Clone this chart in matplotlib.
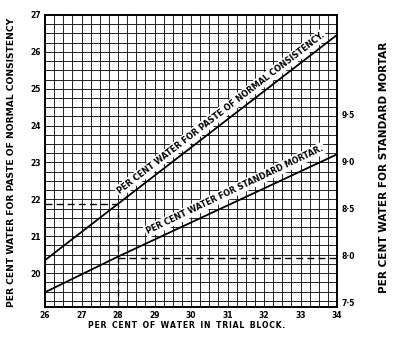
import numpy as np
import matplotlib
matplotlib.use('Agg')
import matplotlib.pyplot as plt

# data
trial_x = [26, 34]
paste_y = [20.35, 26.46]           # left scale
mortar_x = [26, 28, 34]
mortar_y = [7.61, 7.99, 9.08]      # right scale
read_x = 28
read_paste = 21.86
read_mortar = 7.98

x_ticks = [26, 27, 28, 29, 30, 31, 32, 33, 34]
left_ticks = [20, 21, 22, 23, 24, 25, 26, 27]
right_ticks = [7.5, 8.0, 8.5, 9.0, 9.5]
right_labels = ['7·5', '8·0', '8·5', '9·0', '9·5']

left_lim = (19.08, 27)
right_lim = (7.453, 10.565)

fig = plt.figure(figsize=(3.97, 3.39), dpi=100)
ax = fig.add_axes([0.1134, 0.0944, 0.7355, 0.8614])
ax2 = ax.twinx()

ax.set_xlim(26, 34)
ax.set_ylim(*left_lim)
ax2.set_ylim(*right_lim)

# graph paper grid
for gx in np.arange(26.25, 34, 0.25):
    ax.axvline(gx, color='k', lw=0.6, zorder=1)
for gy in np.arange(27 - 0.25, left_lim[0], -0.25):
    ax.axhline(gy, color='k', lw=0.6, zorder=1)

for s in ax.spines.values():
    s.set_linewidth(1.2)
for s in ax2.spines.values():
    s.set_linewidth(1.2)

ax.plot(trial_x, paste_y, color='k', lw=1.3, zorder=3)
ax2.plot(mortar_x, mortar_y, color='k', lw=1.3, zorder=3)

# reading dashes
dash = dict(color='k', lw=1.0, ls=(0, (5, 3)), zorder=4)
ax.plot([26, read_x], [read_paste, read_paste], **dash)
ax.plot([read_x, read_x], [left_lim[0], read_paste], **dash)
ax2.plot([read_x, 34], [read_mortar, read_mortar], **dash)

tfont = dict(fontsize=5.5, fontweight='bold')
ax.set_xticks(x_ticks)
ax.set_xticklabels([str(v) for v in x_ticks], **tfont)
ax.set_yticks(left_ticks)
ax.set_yticklabels([str(v) for v in left_ticks], **tfont)
ax2.set_yticks(right_ticks)
ax2.set_yticklabels(right_labels, **tfont)
ax.tick_params(length=0, pad=3)
ax2.tick_params(length=0, pad=3)

# labels along the lines
box = dict(facecolor='white', edgecolor='none', pad=1.2)
ax.text(30.82, 24.34, 'PER CENT WATER FOR PASTE OF NORMAL CONSISTENCY.',
        rotation=37.6, rotation_mode='anchor', ha='center', va='center',
        fontsize=5.9, fontweight='bold', bbox=box, zorder=5)
ax2.text(31.2, 8.70, 'PER CENT WATER FOR STANDARD MORTAR.',
         rotation=25.5, rotation_mode='anchor', ha='center', va='center',
         fontsize=5.8, fontweight='bold', bbox=box, zorder=5)

fig.text(0.03, 0.52, 'PER CENT WATER FOR PASTE OF NORMAL CONSISTENCY',
         rotation=90, ha='center', va='center', fontsize=6.6, fontweight='bold')
fig.text(0.968, 0.505, 'PER CENT WATER FOR STANDARD MORTAR',
         rotation=90, ha='center', va='center', fontsize=7.6, fontweight='bold')

xlab = 'PER CENT OF WATER IN TRIAL BLOCK.'
xlab = '  '.join('\u200a'.join(w) for w in xlab.split(' '))
fig.text(0.471, 0.041, xlab, ha='center', va='center', fontsize=5.6, fontweight='bold')

fig.savefig('out.png', dpi=100, facecolor='white')
